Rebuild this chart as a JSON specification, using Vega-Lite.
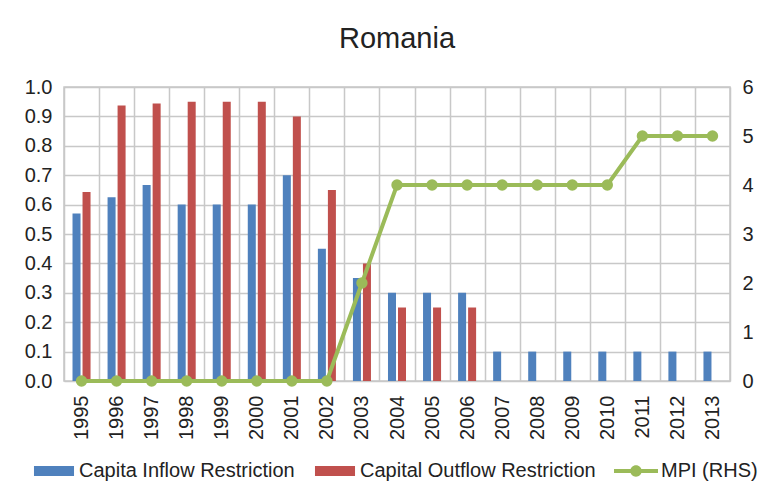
{
  "$schema": "https://vega.github.io/schema/vega-lite/v6.json",
  "width": 666,
  "height": 294,
  "autosize": {"type": "none"},
  "padding": {"left": 64, "top": 87, "right": 36, "bottom": 111},
  "background": "white",
  "title": {"text": "Romania", "fontSize": 29, "font": "Liberation Sans", "fontWeight": "normal", "color": "#222222", "offset": 23, "anchor": "middle", "frame": "group"},
  "datasets": {
    "bars": [
      {"year": "1995", "series": "Capita Inflow Restriction", "value": 0.57},
      {"year": "1995", "series": "Capital Outflow Restriction", "value": 0.643},
      {"year": "1996", "series": "Capita Inflow Restriction", "value": 0.625},
      {"year": "1996", "series": "Capital Outflow Restriction", "value": 0.9375},
      {"year": "1997", "series": "Capita Inflow Restriction", "value": 0.667},
      {"year": "1997", "series": "Capital Outflow Restriction", "value": 0.944},
      {"year": "1998", "series": "Capita Inflow Restriction", "value": 0.6},
      {"year": "1998", "series": "Capital Outflow Restriction", "value": 0.95},
      {"year": "1999", "series": "Capita Inflow Restriction", "value": 0.6},
      {"year": "1999", "series": "Capital Outflow Restriction", "value": 0.95},
      {"year": "2000", "series": "Capita Inflow Restriction", "value": 0.6},
      {"year": "2000", "series": "Capital Outflow Restriction", "value": 0.95},
      {"year": "2001", "series": "Capita Inflow Restriction", "value": 0.7},
      {"year": "2001", "series": "Capital Outflow Restriction", "value": 0.9},
      {"year": "2002", "series": "Capita Inflow Restriction", "value": 0.45},
      {"year": "2002", "series": "Capital Outflow Restriction", "value": 0.65},
      {"year": "2003", "series": "Capita Inflow Restriction", "value": 0.35},
      {"year": "2003", "series": "Capital Outflow Restriction", "value": 0.4},
      {"year": "2004", "series": "Capita Inflow Restriction", "value": 0.3},
      {"year": "2004", "series": "Capital Outflow Restriction", "value": 0.25},
      {"year": "2005", "series": "Capita Inflow Restriction", "value": 0.3},
      {"year": "2005", "series": "Capital Outflow Restriction", "value": 0.25},
      {"year": "2006", "series": "Capita Inflow Restriction", "value": 0.3},
      {"year": "2006", "series": "Capital Outflow Restriction", "value": 0.25},
      {"year": "2007", "series": "Capita Inflow Restriction", "value": 0.1},
      {"year": "2008", "series": "Capita Inflow Restriction", "value": 0.1},
      {"year": "2009", "series": "Capita Inflow Restriction", "value": 0.1},
      {"year": "2010", "series": "Capita Inflow Restriction", "value": 0.1},
      {"year": "2011", "series": "Capita Inflow Restriction", "value": 0.1},
      {"year": "2012", "series": "Capita Inflow Restriction", "value": 0.1},
      {"year": "2013", "series": "Capita Inflow Restriction", "value": 0.1}
    ],
    "mpi": [
      {"year": "1995", "mpi": 0},
      {"year": "1996", "mpi": 0},
      {"year": "1997", "mpi": 0},
      {"year": "1998", "mpi": 0},
      {"year": "1999", "mpi": 0},
      {"year": "2000", "mpi": 0},
      {"year": "2001", "mpi": 0},
      {"year": "2002", "mpi": 0},
      {"year": "2003", "mpi": 2},
      {"year": "2004", "mpi": 4},
      {"year": "2005", "mpi": 4},
      {"year": "2006", "mpi": 4},
      {"year": "2007", "mpi": 4},
      {"year": "2008", "mpi": 4},
      {"year": "2009", "mpi": 4},
      {"year": "2010", "mpi": 4},
      {"year": "2011", "mpi": 5},
      {"year": "2012", "mpi": 5},
      {"year": "2013", "mpi": 5}
    ]
  },
  "encoding": {
    "x": {
      "field": "year", "type": "nominal", "title": null,
      "scale": {"paddingInner": 0, "paddingOuter": 0},
      "axis": {"labelAngle": -90, "labelFontSize": 20, "labelFont": "Liberation Sans", "labelColor": "#222222", "labelPadding": 14, "ticks": false, "domain": false, "grid": true, "tickBand": "extent", "gridColor": "#c8c8c8", "gridOpacity": 1, "gridWidth": 1.5}
    }
  },
  "layer": [
    {
      "data": {"name": "bars"},
      "mark": {"type": "bar"},
      "encoding": {
        "xOffset": {"field": "series", "type": "nominal", "scale": {"domain": ["Capita Inflow Restriction", "Capital Outflow Restriction"], "paddingInner": 0.2, "paddingOuter": 0.85}},
        "y": {
          "field": "value", "type": "quantitative", "title": null,
          "scale": {"domain": [0, 1], "nice": false},
          "axis": {"values": [0, 0.1, 0.2, 0.3, 0.4, 0.5, 0.6, 0.7, 0.8, 0.9, 1.0], "format": ".1f", "labelFontSize": 20, "labelFont": "Liberation Sans", "labelColor": "#222222", "labelPadding": 12, "ticks": false, "domain": false, "grid": true, "gridColor": "#c8c8c8", "gridOpacity": 1, "gridWidth": 1.5}
        },
        "color": {
          "field": "series", "type": "nominal",
          "scale": {"domain": ["Capita Inflow Restriction", "Capital Outflow Restriction", "MPI (RHS)"], "range": ["#4f81bd", "#c0504d", "#9bbb59"]},
          "legend": {
            "title": null, "orient": "none", "legendX": -32, "legendY": 362, "direction": "horizontal", "columns": 3,
            "labelFontSize": 20, "labelFont": "Liberation Sans", "labelColor": "#222222", "labelOffset": 3, "columnPadding": 18,
            "symbolSize": 1936, "labelLimit": 400,
            "encode": {
              "symbols": {
                "update": {
                  "fill": {"scale": "color", "field": "value"},
                  "stroke": {"value": "transparent"},
                  "strokeWidth": {"value": 0},
                  "opacity": {"value": 1},
                  "shape": {"signal": "datum.value === 'MPI (RHS)' ? 'M-1,-0.09H1V0.09H-1Z M0.26,0A0.26,0.26 0 1,1 -0.26,0A0.26,0.26 0 1,1 0.26,0Z' : 'M-0.91,-0.23H0.91V0.23H-0.91Z'"}
                }
              }
            }
          }
        }
      }
    },
    {
      "data": {"name": "mpi"},
      "mark": {"type": "line", "strokeWidth": 4, "point": {"filled": true, "size": 130}},
      "encoding": {
        "y": {
          "field": "mpi", "type": "quantitative", "title": null,
          "scale": {"domain": [0, 6], "nice": false},
          "axis": {"orient": "right", "values": [0, 1, 2, 3, 4, 5, 6], "labelFontSize": 20, "labelFont": "Liberation Sans", "labelColor": "#222222", "labelPadding": 12, "ticks": false, "domain": false, "grid": false}
        },
        "color": {"datum": "MPI (RHS)"}
      }
    }
  ],
  "resolve": {"scale": {"y": "independent"}},
  "config": {"view": {"stroke": "#c8c8c8", "strokeWidth": 1.5}}
}
